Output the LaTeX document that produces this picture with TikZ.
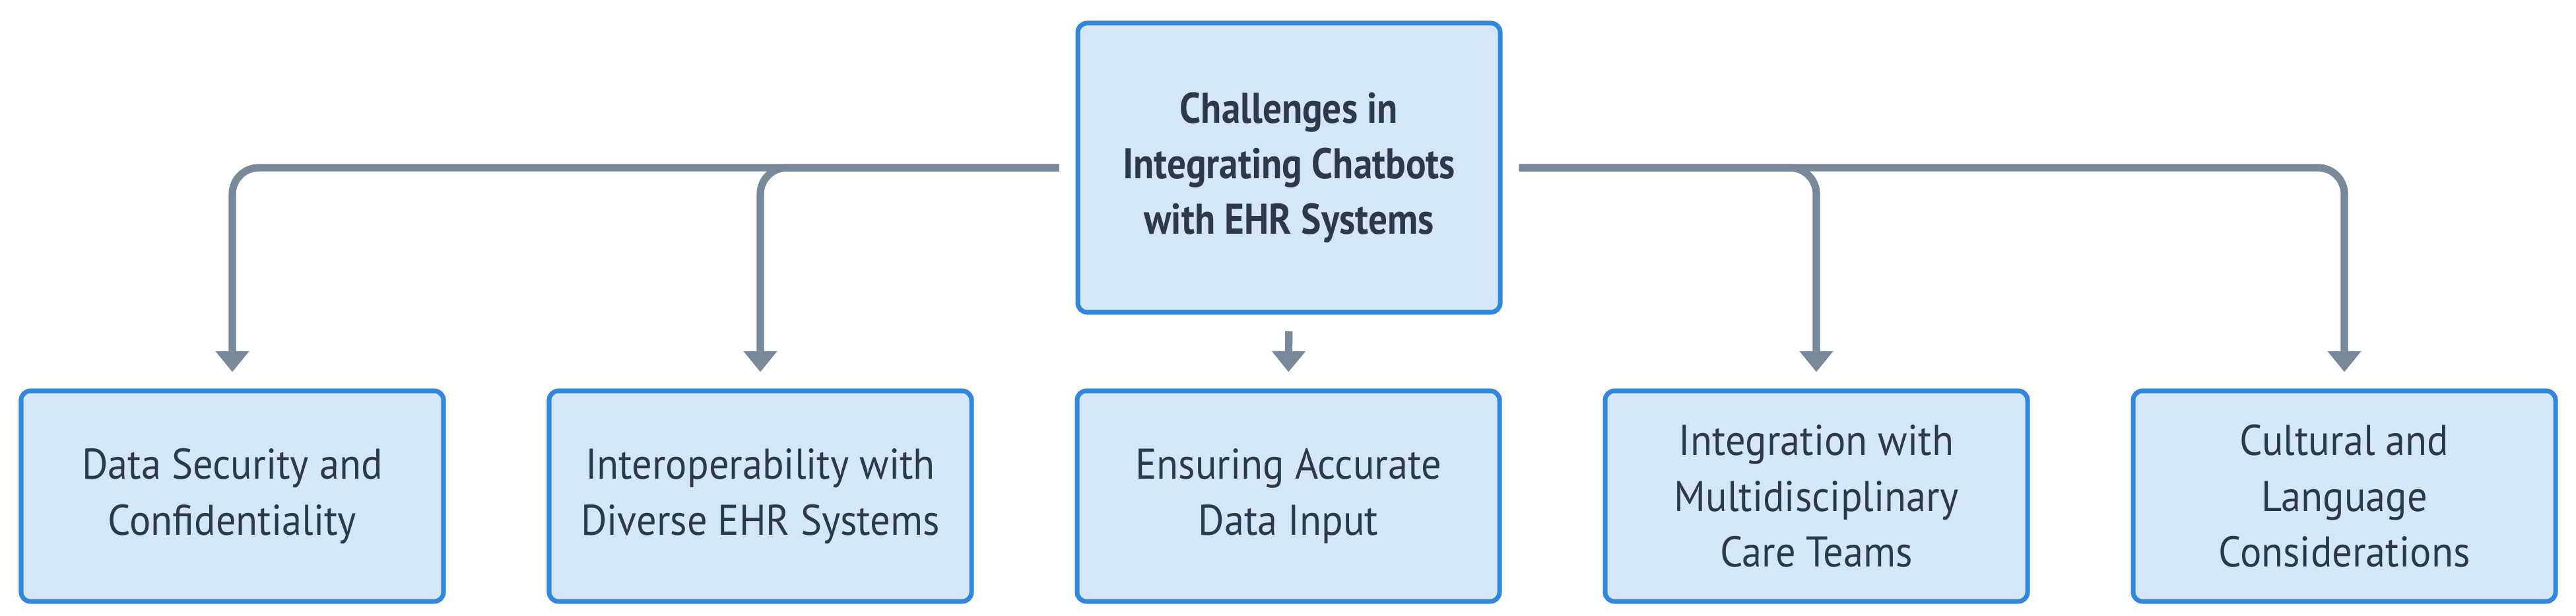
\documentclass[tikz,border=0pt]{standalone}
\usepackage{fontspec}
\setmainfont[FakeStretch=0.93, BoldFeatures={FakeStretch=0.88}]{PT Sans}
\usetikzlibrary{arrows.meta, positioning}
\definecolor{boxfill}{HTML}{D5E6F6}
\definecolor{boxline}{HTML}{2F88DD}
\definecolor{arrowgray}{HTML}{7A8999}
\definecolor{textdark}{HTML}{2B3A4B}
\begin{document}
\begin{tikzpicture}[>={Triangle[length=9pt, width=14pt]}, font=\fontsize{18.5}{24}\selectfont, line width=3.2pt]
\tikzset{leaf/.style={draw=boxline, fill=boxfill, line width=2pt, rounded corners=4pt, minimum width=6.4cm, minimum height=3.19cm, align=center, text=textdark}, root/.style={leaf, minimum height=4.38cm, font=\fontsize{18.5}{24}\selectfont\bfseries}, link/.style={->, draw=arrowgray, rounded corners=0.4cm, shorten <=0.25cm, shorten >=0.25cm}}
\useasboundingbox (0,0) rectangle (39.03,9.33);
\node[root] (R) at (19.53,6.79) {Challenges in\\Integrating Chatbots\\with EHR Systems};
\node[leaf] (C1) at (3.52,1.815) {Data Security and\\Confidentiality};
\node[leaf] (C2) at (11.52,1.815) {Interoperability with\\Diverse EHR Systems};
\node[leaf] (C3) at (19.52,1.815) {Ensuring Accurate\\Data Input};
\node[leaf] (C4) at (27.52,1.815) {Integration with\\Multidisciplinary\\Care Teams};
\node[leaf] (C5) at (35.52,1.815) {Cultural and\\Language\\Considerations};
\draw[link] (R.west) -| (C1.north); \draw[link] (R.west) -| (C2.north);
\draw[link] (R.south) -- (C3.north);
\draw[link] (R.east) -| (C4.north); \draw[link] (R.east) -| (C5.north);
\end{tikzpicture}
\end{document}
